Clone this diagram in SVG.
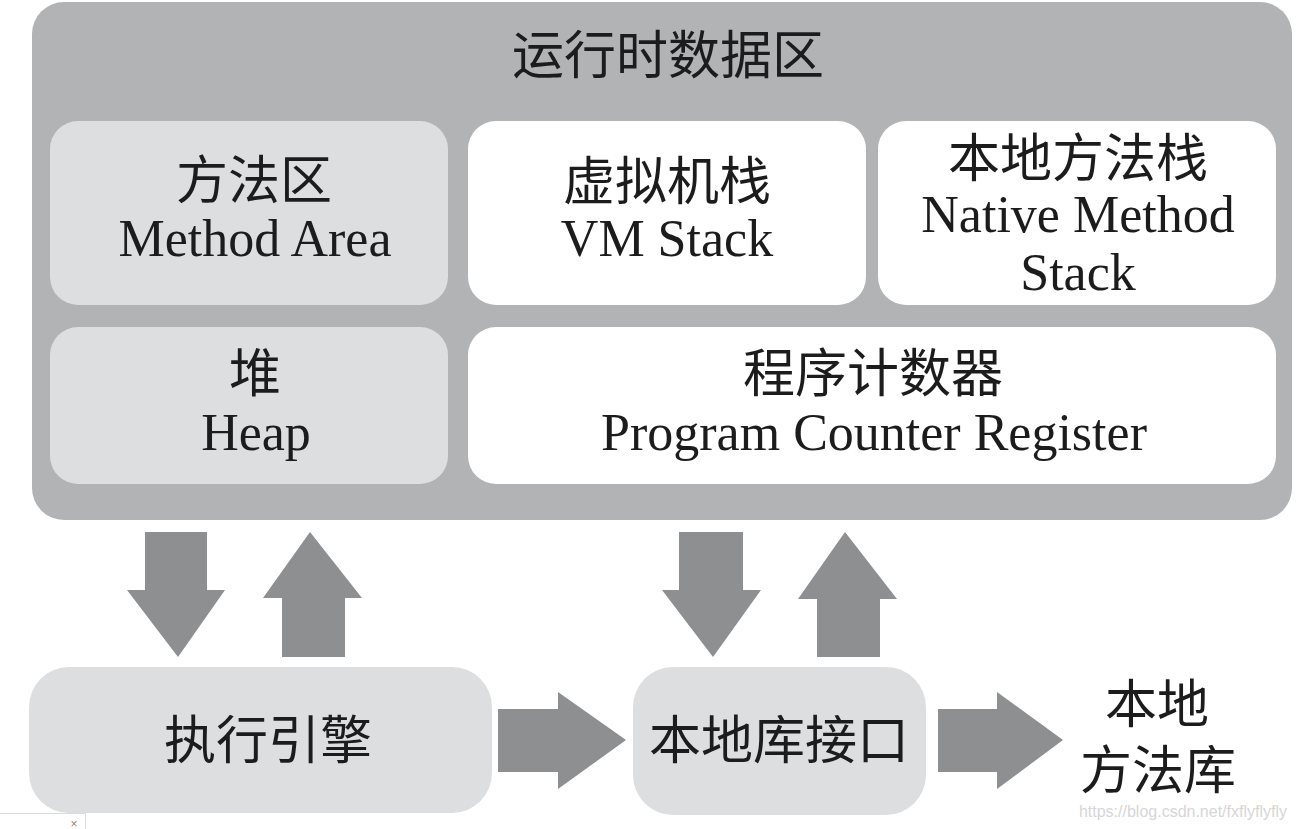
<svg xmlns="http://www.w3.org/2000/svg" width="1298" height="829" viewBox="0 0 1298 829">
<defs>
<style>
.cjk{font-family:"Noto Sans CJK SC","Liberation Serif",serif;font-size:52px;fill:#1c1c1c;text-anchor:middle}
.en{font-family:"Liberation Serif","Noto Sans CJK SC",serif;font-size:52px;fill:#1c1c1c;text-anchor:middle}
.lt{fill:#dcdee0}
.wh{fill:#ffffff}
.arr{fill:#8d8f91}
</style>
</defs>
<rect x="0" y="0" width="1298" height="829" fill="#ffffff"/>
<g id="runtime-data-area">
<rect x="32" y="2" width="1260" height="518" rx="32" fill="#b1b3b5"/>
<text class="cjk" x="668" y="74" font-size="53">运行时数据区</text>
</g>
<g id="method-area">
<rect class="lt" x="50" y="121" width="398" height="184" rx="28"/>
<text class="cjk" x="254" y="199">方法区</text>
<text class="en" x="255" y="256">Method Area</text>
</g>
<g id="vm-stack">
<rect class="wh" x="468" y="121" width="398" height="184" rx="28"/>
<text class="cjk" x="667" y="200">虚拟机栈</text>
<text class="en" x="667" y="256">VM Stack</text>
</g>
<g id="native-method-stack">
<rect class="wh" x="878" y="121" width="398" height="184" rx="28"/>
<text class="cjk" x="1078" y="177">本地方法栈</text>
<text class="en" x="1078" y="232">Native Method</text>
<text class="en" x="1078" y="290">Stack</text>
</g>
<g id="heap">
<rect class="lt" x="50" y="327" width="398" height="157" rx="28"/>
<text class="cjk" x="255" y="392">堆</text>
<text class="en" x="256" y="450">Heap</text>
</g>
<g id="program-counter">
<rect class="wh" x="468" y="327" width="808" height="157" rx="28"/>
<text class="cjk" x="873" y="392">程序计数器</text>
<text class="en" x="874" y="450">Program Counter Register</text>
</g>
<g id="execution-engine">
<rect class="lt" x="29" y="667" width="463" height="146" rx="40"/>
<text class="cjk" x="268" y="759">执行引擎</text>
</g>
<g id="native-interface">
<rect class="lt" x="633" y="667" width="293" height="148" rx="40"/>
<text class="cjk" x="779" y="759" font-size="49">本地库接口</text>
</g>
<g id="native-library">
<text class="cjk" x="1157" y="723" font-size="50">本地</text>
<text class="cjk" x="1158" y="789" font-size="50">方法库</text>
</g>
<g id="connectors">
<polygon class="arr" points="145,532 207,532 207,590 225,590 178,657 127,590 145,590"/>
<polygon class="arr" points="310,532 362,598 345,598 345,657 282,657 282,598 263,598"/>
<polygon class="arr" points="679,532 743,532 743,590 761,590 713,657 662,590 679,590"/>
<polygon class="arr" points="845,532 897,599 880,599 880,657 817,657 817,599 798,599"/>
<polygon class="arr" points="498,709 558,709 558,692 626,740 558,789 558,772 498,772"/>
<polygon class="arr" points="938,709 997,709 997,692 1063,740 997,789 997,772 938,772"/>
</g>
<g id="watermark">
<text x="1287" y="817" font-family="Liberation Sans, Arial, sans-serif" font-size="16" fill="#d6d6d6" text-anchor="end">https://blog.csdn.net/fxflyflyfly</text>
</g>
<g id="corner-artifact">
<polyline points="0,813.5 85.5,813.5 85.5,829" fill="none" stroke="#dcdcdc" stroke-width="1"/>
<text x="74" y="828" font-family="Liberation Sans, Arial, sans-serif" font-size="12" fill="#888888" text-anchor="middle">×</text>
</g>
</svg>
